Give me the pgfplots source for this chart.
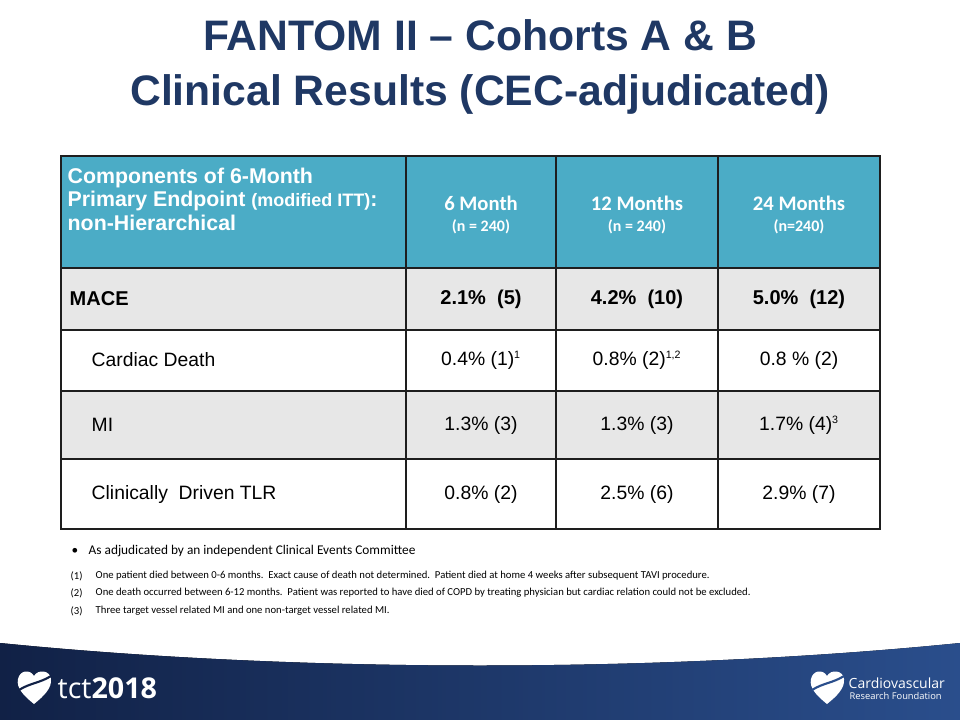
\documentclass[border=0pt]{standalone}
\usepackage{pgfplots}
\pgfplotsset{compat=1.18}
\usepackage{fontspec}
\setmainfont{Liberation Sans}
\newfontfamily\calfont{Carlito}
\newfontfamily\osfont{Open Sans}
\definecolor{titleblue}{RGB}{31,56,100}
\definecolor{hdr}{RGB}{75,172,198}
\definecolor{grayrow}{RGB}{231,231,231}
\definecolor{tline}{RGB}{30,30,30}
\definecolor{navyL}{RGB}{17,33,70}
\definecolor{navyR}{RGB}{42,78,140}
\newcommand{\fs}[1]{\fontsize{#1}{1.2\dimexpr#1pt\relax}\selectfont}
\begin{document}
\begin{tikzpicture}
\begin{axis}[scale only axis, width=720pt, height=540pt,
  xmin=0, xmax=960, ymin=0, ymax=720, y dir=reverse,
  hide axis, clip=false]
\addplot[draw=none] coordinates {(0,0) (960,720)};
% background
\fill[white] (0,0) rectangle (960,720);
% title
\node[titleblue, font=\fs{32}\bfseries, align=center] at (480,67)
  {FANTOM II -- Cohorts A \& B\\[2.5pt]Clinical Results (CEC-adjudicated)};
% table fills
\fill[hdr] (61,156) rectangle (880,268);
\fill[grayrow] (61,268) rectangle (880,330);
\fill[grayrow] (61,391) rectangle (880,459);
% table lines
\draw[tline, line width=1.1pt] (61,268) -- (880,268);
\draw[tline, line width=1.1pt] (61,330) -- (880,330);
\draw[tline, line width=1.1pt] (61,391) -- (880,391);
\draw[tline, line width=1.1pt] (61,459) -- (880,459);
\draw[tline, line width=1.1pt] (406,156) -- (406,529);
\draw[tline, line width=1.1pt] (556,156) -- (556,529);
\draw[tline, line width=1.1pt] (718,156) -- (718,529);
\draw[tline, line width=1.1pt] (61,156) rectangle (880,529);
% header text
\node[anchor=west, white, align=left, font=\fs{16}\bfseries] at (63,199)
  {Components of 6-Month\\[-1.6pt]Primary Endpoint {\fs{13.5}(modified ITT)}:\\[-1.6pt]non-Hierarchical};
\node[white, align=center, font=\calfont\bfseries] at (481,215)
  {{\fs{15.5}6 Month}\\[4pt]{\fs{12}(n = 240)}};
\node[white, align=center, font=\calfont\bfseries] at (637,215)
  {{\fs{15.5}12 Months}\\[4pt]{\fs{12}(n = 240)}};
\node[white, align=center, font=\calfont\bfseries] at (799,215)
  {{\fs{15.5}24 Months}\\[4pt]{\fs{12}(n=240)}};
% rows
\node[anchor=west, font=\fs{15}\bfseries] at (65,299) {MACE};
\node[font=\fs{15}\bfseries] at (481,299) {2.1\%\ \ (5)};
\node[font=\fs{15}\bfseries] at (637,299) {4.2\%\ \ (10)};
\node[font=\fs{15}\bfseries] at (799,299) {5.0\%\ \ (12)};
\node[anchor=west, font=\fs{14.5}] at (87,360) {Cardiac Death};
\node[font=\fs{14.5}] at (481,360) {0.4\% (1)\textsuperscript{\fs{8}1}};
\node[font=\fs{14.5}] at (637,360) {0.8\% (2)\textsuperscript{\fs{8}1,2}};
\node[font=\fs{14.5}] at (799,360) {0.8 \% (2)};
\node[anchor=west, font=\fs{14.5}] at (87,425) {MI};
\node[font=\fs{14.5}] at (481,425) {1.3\% (3)};
\node[font=\fs{14.5}] at (637,425) {1.3\% (3)};
\node[font=\fs{14.5}] at (799,425) {1.7\% (4)\textsuperscript{\fs{8}3}};
\node[anchor=west, font=\fs{14.5}] at (87,494) {Clinically\ \ Driven TLR};
\node[font=\fs{14.5}] at (481,494) {0.8\% (2)};
\node[font=\fs{14.5}] at (637,494) {2.5\% (6)};
\node[font=\fs{14.5}] at (799,494) {2.9\% (7)};
% footnotes
\node[anchor=west, font=\calfont\fs{10}] at (67,551) {\textbullet};
\node[anchor=west, font=\calfont\fs{10}] at (84,551) {As adjudicated by an independent Clinical Events Committee};
\node[anchor=west, font=\calfont\fs{8}] at (66,576) {(1)};
\node[anchor=west, font=\calfont\fs{8}] at (91,576) {One patient died between 0-6 months.\ \ Exact cause of death not determined.\ \ Patient died at home 4 weeks after subsequent TAVI procedure.};
\node[anchor=west, font=\calfont\fs{8}] at (66,593) {(2)};
\node[anchor=west, font=\calfont\fs{8}] at (91,593) {One death occurred between 6-12 months.\ \ Patient was reported to have died of COPD by treating physician but cardiac relation could not be excluded.};
\node[anchor=west, font=\calfont\fs{8}] at (66,611) {(3)};
\node[anchor=west, font=\calfont\fs{8}] at (91,611) {Three target vessel related MI and one non-target vessel related MI.};
% bottom banner
\fill[left color=navyL, right color=navyR] (0,643) .. controls (300,673) and (660,673) .. (960,643) -- (960,720) -- (0,720) -- cycle;
% tct heart
\fill[white] (34,704) .. controls (24,696) and (16,688) .. (18,679) .. controls (20,670) and (30,669) .. (34,676) .. controls (38,669) and (50,670) .. (51,679) .. controls (52,688) and (44,696) .. (34,704) -- cycle;
\draw[navyL, line width=1.6pt] (19,690) .. controls (30,683) and (40,683) .. (51,676);
\node[anchor=west, white, font=\osfont\fs{21.5}] at (53,688) {tct\textbf{2018}};
% CRF heart
\fill[white] (827,704) .. controls (817,696) and (809,688) .. (811,679) .. controls (813,670) and (823,669) .. (827,676) .. controls (831,669) and (843,670) .. (844,679) .. controls (845,688) and (837,696) .. (827,704) -- cycle;
\draw[navyR, line width=1.6pt] (812,690) .. controls (823,683) and (833,683) .. (844,676);
\node[anchor=west, white, font=\osfont\fs{10.5}] at (844,683) {Cardiovascular};
\node[anchor=west, white, font=\osfont\fs{7}] at (845,696) {Research Foundation};
\end{axis}
\end{tikzpicture}
\end{document}
